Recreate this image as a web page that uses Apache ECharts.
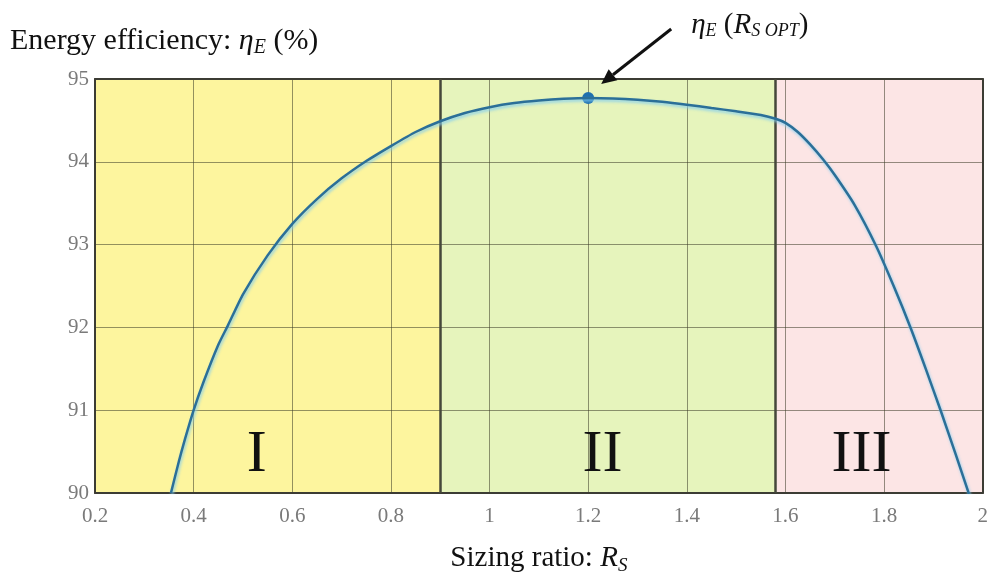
<!DOCTYPE html>
<html>
<head>
<meta charset="utf-8">
<script src="https://cdn.jsdelivr.net/npm/echarts@6/dist/echarts.min.js"></script>
<style>
  html, body { margin: 0; padding: 0; background: #fff; }
  #chart { width: 991px; height: 580px; }
</style>
</head>
<body>
<div id="chart"></div>
<script>
// Energy efficiency versus sizing ratio
const sizingRatio = [0.354, 0.37, 0.38, 0.40, 0.42, 0.45, 0.47, 0.50, 0.55, 0.60, 0.65, 0.70, 0.75, 0.80, 0.85, 0.90, 0.95, 1.00, 1.05, 1.10, 1.15, 1.20, 1.25, 1.30, 1.35, 1.40, 1.45, 1.50, 1.55, 1.58, 1.60, 1.625, 1.65, 1.676, 1.70, 1.74, 1.784, 1.82, 1.854, 1.885, 1.915, 1.945, 1.972];
const efficiency  = [90.00, 90.38, 90.60, 91.00, 91.34, 91.79, 92.03, 92.40, 92.87, 93.25, 93.55, 93.80, 94.01, 94.19, 94.36, 94.49, 94.59, 94.66, 94.71, 94.74, 94.76, 94.77, 94.765, 94.75, 94.725, 94.69, 94.65, 94.61, 94.565, 94.52, 94.47, 94.36, 94.21, 94.03, 93.84, 93.48, 92.98, 92.49, 91.99, 91.49, 90.99, 90.47, 89.99];

// Operating regions
const regionBounds = [0.2, 0.9, 1.58, 2.0];
const regionNames = ['I', 'II', 'III'];
const regionColors = ['#fdf59e', '#e6f4bc', '#fce5e5'];
const regionLabelX = [0.528, 1.229, 1.754];
const regionLabelY = 90.46;

// Optimum point
const optimum = [1.2, 94.77];

// Axis ticks
const xTicks = [0.2, 0.4, 0.6, 0.8, 1, 1.2, 1.4, 1.6, 1.8, 2];
const yTicks = [90, 91, 92, 93, 94, 95];

const serif = '"Liberation Serif", "DejaVu Serif", serif';
const chart = echarts.init(document.getElementById('chart'));

const curve = sizingRatio.map((x, i) => [x, efficiency[i]]);

function richStyles(big, small, drop) {
  return {
    a: { fontFamily: serif, fontSize: big, fill: '#111', color: '#111', lineHeight: big + 6 },
    i: { fontFamily: serif, fontSize: big, fontStyle: 'italic', fill: '#111', color: '#111', lineHeight: big + 6 },
    s: { fontFamily: serif, fontSize: small, fontStyle: 'italic', fill: '#111', color: '#111', padding: [drop, 0, 0, 0], lineHeight: big + 6 }
  };
}

const option = {
  animation: false,
  grid: { left: 95, right: 2, top: 79, bottom: 77, show: false },
  xAxis: [{
    type: 'value',
    min: xTicks[0], max: xTicks[xTicks.length - 1], interval: 0.2,
    z: 3,
    axisLine: { show: true, lineStyle: { color: '#3c3c34', width: 2 } },
    axisTick: { show: false },
    axisLabel: {
      color: '#7a7a7a', fontFamily: serif, fontSize: 21, margin: 13,
      formatter: v => String(Math.round(v * 10) / 10)
    },
    splitLine: { show: true, lineStyle: { color: 'rgba(60,60,40,0.55)', width: 1 } },
    name: '{a|Sizing ratio: }{i|R}{s|S}',
    nameLocation: 'middle', nameGap: 48,
    nameTextStyle: { fontFamily: serif, color: '#111', rich: richStyles(29, 19, 14) }
  }, {
    type: 'value', position: 'top',
    min: xTicks[0], max: xTicks[xTicks.length - 1],
    z: 3,
    axisLine: { show: true, onZero: false, lineStyle: { color: '#3c3c34', width: 2 } },
    axisTick: { show: false }, axisLabel: { show: false }, splitLine: { show: false }
  }],
  yAxis: [{
    type: 'value',
    min: yTicks[0], max: yTicks[yTicks.length - 1], interval: 1,
    z: 3,
    axisLine: { show: true, lineStyle: { color: '#3c3c34', width: 2 } },
    axisTick: { show: false },
    axisLabel: { color: '#7a7a7a', fontFamily: serif, fontSize: 21, margin: 6 },
    splitLine: { show: true, lineStyle: { color: 'rgba(60,60,40,0.55)', width: 1 } }
  }, {
    type: 'value', position: 'right',
    min: yTicks[0], max: yTicks[yTicks.length - 1],
    z: 3,
    axisLine: { show: true, onZero: false, lineStyle: { color: '#3c3c34', width: 2 } },
    axisTick: { show: false }, axisLabel: { show: false }, splitLine: { show: false }
  }],
  series: [
    {
      // region fills
      type: 'line', data: [], z: 1, silent: true,
      markArea: {
        silent: true,
        data: regionNames.map((n, i) => [
          { xAxis: regionBounds[i], yAxis: yTicks[0], itemStyle: { color: regionColors[i] } },
          { xAxis: regionBounds[i + 1], yAxis: yTicks[yTicks.length - 1] }
        ])
      }
    },
    {
      // region boundaries and labels
      type: 'line', data: [], z: 4, silent: true,
      markLine: {
        silent: true, symbol: 'none', animation: false,
        label: { show: false },
        lineStyle: { color: '#45473a', width: 2.5, type: 'solid' },
        data: regionBounds.slice(1, -1).map(b => ({ xAxis: b }))
      },
      markPoint: {
        silent: true, symbol: 'circle', symbolSize: 1,
        itemStyle: { color: 'rgba(0,0,0,0)' },
        label: {
          show: true, position: 'inside', color: '#111',
          fontFamily: serif, fontSize: 60
        },
        data: regionNames.map((n, i) => ({
          coord: [regionLabelX[i], regionLabelY], value: n,
          label: { formatter: n }
        }))
      }
    },
    {
      // efficiency curve
      type: 'line', data: curve, z: 5,
      smooth: 0.2, showSymbol: false,
      lineStyle: {
        color: '#2b6f98', width: 2.5,
        shadowColor: 'rgba(130,205,240,0.9)', shadowBlur: 3, shadowOffsetX: 1, shadowOffsetY: 2
      },
      markPoint: {
        symbol: 'circle', symbolSize: 12,
        itemStyle: { color: '#1f6fae' },
        label: { show: false },
        data: [{ coord: optimum }]
      }
    }
  ]
};

chart.setOption(option);

// Axis title and annotation arrow pointing at the optimum point
const tip = chart.convertToPixel({ seriesIndex: 2 }, optimum);
const tipX = tip[0] + 13, tipY = tip[1] - 14;
const tailX = tipX + 70, tailY = tipY - 55;
const ang = Math.atan2(tipY - tailY, tipX - tailX);
const headLen = 15, headW = 7;
const bx = tipX - headLen * Math.cos(ang), by = tipY - headLen * Math.sin(ang);
chart.setOption({
  graphic: [
    {
      type: 'text', left: 10, top: 25,
      style: {
        text: '{a|Energy efficiency: }{i|η}{s|E}{a| (%)}',
        fill: '#111',
        rich: richStyles(30, 20, 13)
      }
    },
    {
      type: 'line', z: 10,
      shape: { x1: tailX, y1: tailY, x2: bx, y2: by },
      style: { stroke: '#111', lineWidth: 3 }
    },
    {
      type: 'polygon', z: 10,
      shape: {
        points: [
          [tipX, tipY],
          [bx + headW * Math.sin(ang), by - headW * Math.cos(ang)],
          [bx - headW * Math.sin(ang), by + headW * Math.cos(ang)]
        ]
      },
      style: { fill: '#111' }
    },
    {
      type: 'text', x: tailX + 20, y: tailY - 4,
      style: {
        text: '{i|η}{s|E}{a| (}{i|R}{s|S OPT}{a|)}',
        verticalAlign: 'middle', align: 'left',
        fill: '#111',
        rich: richStyles(29, 18, 13)
      }
    }
  ]
});
</script>
</body>
</html>
